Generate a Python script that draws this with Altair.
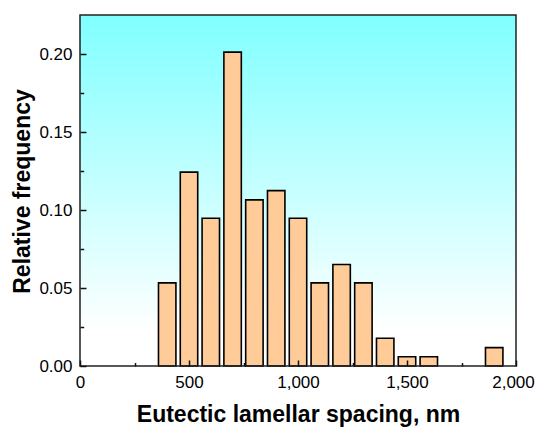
import altair as alt
import pandas as pd

# Histogram data (bin centers in nm, relative frequency)
bin_centers = [400, 500, 600, 700, 800, 900, 1000, 1100, 1200, 1300, 1400, 1500, 1600, 1900]
rel_freq = [0.0533, 0.1243, 0.0947, 0.2012, 0.1065, 0.1124, 0.0947, 0.0533,
            0.0651, 0.0533, 0.0178, 0.0059, 0.0059, 0.0118]
bar_width = 80  # nm, bar drawn narrower than 100 nm bin

x_tick_values = [0, 250, 500, 750, 1000, 1250, 1500, 1750, 2000]
y_tick_values = [0.0, 0.025, 0.05, 0.075, 0.10, 0.125, 0.15, 0.175, 0.20]

df = pd.DataFrame({"center": bin_centers, "freq": rel_freq})
one = pd.DataFrame({"k": [0]})

W, H = 436, 351
FONT = "Liberation Sans"

x_scale = alt.Scale(domain=[0, 2000], nice=False, zero=False)
y_scale = alt.Scale(domain=[0, 0.225], nice=False)

x_axis = alt.Axis(
    values=x_tick_values,
    labelExpr="datum.value % 500 === 0 ? format(datum.value, ',') : ''",
    tickSize={"condition": {"test": "datum.value % 500 === 0", "value": -6}, "value": -3.5},
    labelOffset={"condition": {"test": "datum.value === 2000", "value": -3}, "value": 0},
    tickColor="#111", tickWidth=1.5,
    domain=False, grid=False,
    labelFont=FONT, labelFontSize=17, labelColor="#000", labelPadding=14,
    labelFlush=False, labelOverlap=False,
    title="Eutectic lamellar spacing, nm",
    titleFont=FONT, titleFontSize=23, titleFontWeight="bold", titleColor="#000",
    titleBaseline="alphabetic", titleY=55, zindex=1,
)
y_axis = alt.Axis(
    values=y_tick_values,
    labelExpr="round(datum.value*40) % 2 === 0 ? format(datum.value, '.2f') : ''",
    tickSize={"condition": {"test": "round(datum.value*40) % 2 === 0", "value": -6}, "value": -3.7},
    tickColor="#111", tickWidth=1.5,
    domain=False, grid=False,
    labelFont=FONT, labelFontSize=17, labelColor="#000", labelPadding=14,
    labelFlush=False, labelOverlap=False,
    title="Relative frequency",
    titleFont=FONT, titleFontSize=23, titleFontWeight="bold", titleColor="#000",
    titleAngle=-90, titleBaseline="alphabetic", titleAlign="center",
    titleX=-51, titleY=176, zindex=1,
)

background = alt.Chart(one).mark_rect(
    fill=alt.Gradient(
        gradient="linear",
        stops=[alt.GradientStop(offset=0, color="#80FFFF"),
               alt.GradientStop(offset=0.9, color="#FFFFFF"),
               alt.GradientStop(offset=1, color="#FFFFFF")],
        x1=0, x2=0, y1=0, y2=1,
    )
).encode(x=alt.value(0), x2=alt.value("width"), y=alt.value(0), y2=alt.value("height"))

bars = alt.Chart(df).transform_calculate(
    x0=f"datum.center - {bar_width/2}", x1=f"datum.center + {bar_width/2}"
).mark_rect(fill="#FFCC99", stroke="#000", strokeWidth=1.6).encode(
    x=alt.X("x0:Q", scale=x_scale, axis=x_axis),
    x2="x1:Q",
    y=alt.Y("freq:Q", scale=y_scale, axis=y_axis),
    y2=alt.datum(0),
)

frame = alt.Chart(one).mark_rect(fill=None, stroke="#222", strokeWidth=1.5).encode(
    x=alt.value(0), x2=alt.value("width"), y=alt.value(0), y2=alt.value("height")
)

chart = alt.layer(background, bars, frame).properties(
    width=W, height=H,
    autosize=alt.AutoSizeParams(type="none"),
    padding={"left": 80, "top": 15, "right": 20, "bottom": 61},
    background="white",
).configure_view(stroke=None)

chart.save("out.html", embed_options={"renderer": "svg", "actions": False})
